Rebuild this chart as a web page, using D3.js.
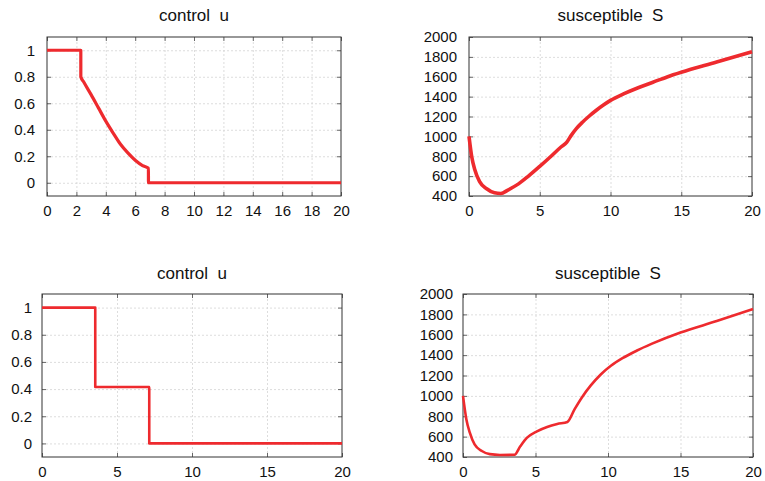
<!DOCTYPE html>
<html>
<head>
<meta charset="utf-8">
<script src="https://cdn.jsdelivr.net/npm/d3@7"></script>
<style>
  body { margin: 0; background: #fff; }
  svg { display: block; }
  .tick text { font-family: 'Liberation Sans', Arial, sans-serif; font-size: 15px; fill: #111; }
  .title { font-family: 'Liberation Sans', Arial, sans-serif; font-size: 17px; fill: #111; white-space: pre; }
  .grid line { stroke: #d4d4d4; stroke-dasharray: 2,2; stroke-width: 0.8; }
  .grid path { display: none; }
</style>
</head>
<body>
<svg id="chart" width="765" height="481"></svg>
<script>

// top row: control with a smooth decreasing part (jumps use a tiny step in t)
var uTopT = [0, 2.3, 2.301, 2.5, 3, 3.5, 4, 4.5, 5, 5.5, 6, 6.5, 6.9, 6.901, 20];
var uTopV = [1, 1, 0.8, 0.76, 0.665, 0.565, 0.465, 0.375, 0.29, 0.225, 0.17, 0.13, 0.11, 0, 0];

var sTopT = [0, 0.2, 0.4, 0.75, 1.25, 1.8, 2.25, 2.75, 3.5, 4.2, 5, 5.8, 6.5, 6.9, 7.2, 7.6, 8, 8.5, 9, 9.5, 10, 11, 12, 13, 14, 15, 17.5, 20];
var sTopV = [1000, 790, 670, 545, 473, 432, 425, 460, 522, 600, 698, 800, 893, 940, 1005, 1080, 1140, 1205, 1263, 1315, 1362, 1432, 1492, 1545, 1598, 1645, 1748, 1852];

// bottom row: piecewise constant control
var uBotT = [0, 3.55, 3.551, 7.15, 7.151, 20];
var uBotV = [1, 1, 0.415, 0.415, 0, 0];

var sBotT = [0, 0.23, 0.47, 0.8, 1.3, 1.85, 2.55, 3.55, 3.95, 4.4, 5.1, 5.8, 6.5, 7.2, 7.7, 8.2, 8.8, 9.5, 10.2, 11, 12, 13, 15, 17.5, 20];
var sBotV = [1000, 771, 639, 523, 459, 428, 420, 422, 505, 587, 652, 695, 724, 744, 870, 985, 1100, 1210, 1295, 1370, 1445, 1510, 1622, 1734, 1852];

var uTicks = [0, 0.2, 0.4, 0.6, 0.8, 1];
var sTicks = [400, 600, 800, 1000, 1200, 1400, 1600, 1800, 2000];
var xTicksFine = [0, 2, 4, 6, 8, 10, 12, 14, 16, 18, 20];
var xTicksCoarse = [0, 5, 10, 15, 20];

var svg = d3.select('#chart');

class Panel
{
  constructor(box, title, xTicks, yDomain, yTicks, yFormat, lineWidth)
  {
    this.box = box;
    this.width = box.right - box.left;
    this.height = box.bottom - box.top;

    this.x = d3.scaleLinear().domain([0, 20]).range([0, this.width]);
    this.y = d3.scaleLinear().domain(yDomain).range([this.height, 0]);

    this.g = svg.append('g')
      .attr('transform', 'translate(' + box.left + ',' + box.top + ')');

    // dashed grid
    this.g.append('g')
      .attr('class', 'grid')
      .attr('transform', 'translate(0,' + this.height + ')')
      .call(d3.axisBottom(this.x).tickValues(xTicks.slice(1, -1)).tickSize(-this.height).tickFormat(''));

    this.g.append('g')
      .attr('class', 'grid')
      .call(d3.axisLeft(this.y).tickValues(yTicks.filter(v => v > yDomain[0] && v < yDomain[1])).tickSize(-this.width).tickFormat(''));

    // inward ticks on all four sides
    var xb = this.g.append('g')
      .attr('transform', 'translate(0,' + this.height + ')')
      .call(d3.axisBottom(this.x).tickValues(xTicks).tickSizeInner(-4).tickSizeOuter(0).tickPadding(box.xpad));
    var xt = this.g.append('g')
      .call(d3.axisTop(this.x).tickValues(xTicks).tickSizeInner(-4).tickSizeOuter(0).tickFormat(''));
    var yl = this.g.append('g')
      .call(d3.axisLeft(this.y).tickValues(yTicks).tickFormat(yFormat).tickSizeInner(-4).tickSizeOuter(0).tickPadding(box.ypad));
    var yr = this.g.append('g')
      .attr('transform', 'translate(' + this.width + ',0)')
      .call(d3.axisRight(this.y).tickValues(yTicks).tickSizeInner(-4).tickSizeOuter(0).tickFormat(''));

    [xb, xt, yl, yr].forEach(a => {
      a.select('.domain').remove();
      a.selectAll('.tick line').attr('stroke', '#666');
    });

    this.g.append('rect')
      .attr('x', 0)
      .attr('y', 0)
      .attr('width', this.width)
      .attr('height', this.height)
      .attr('fill', 'none')
      .attr('stroke', '#333')
      .attr('stroke-width', 1);

    svg.append('text')
      .attr('class', 'title')
      .attr('x', box.left + this.width / 2)
      .attr('y', box.titleY)
      .attr('text-anchor', 'middle')
      .text(title);

    this.lineWidth = lineWidth;
  }

  draw(ts, vs)
  {
    var pts = ts.map((t, i) => ({t: t, v: vs[i]}));
    var line = d3.line().x(d => this.x(d.t)).y(d => this.y(d.v)).curve(d3.curveMonotoneX);

    this.g.append('path')
      .datum(pts)
      .attr('fill', 'none')
      .attr('stroke', '#ee2a2e')
      .attr('stroke-width', this.lineWidth)
      .attr('stroke-linejoin', 'round')
      .attr('d', line);
  }
}

var uFmt = d => d3.format('~g')(d);
var sFmt = d => String(d);

var p1 = new Panel({left: 47, right: 341, top: 37, bottom: 196, xpad: 9, ypad: 12, titleY: 21}, 'control  u',
  xTicksFine, [-0.1, 1.1], uTicks, uFmt, 3.2);
p1.draw(uTopT, uTopV);

var p2 = new Panel({left: 469, right: 752, top: 37, bottom: 196, xpad: 9, ypad: 12, titleY: 21}, 'susceptible  S',
  xTicksCoarse, [400, 2000], sTicks, sFmt, 3.6);
p2.draw(sTopT, sTopV);

var p3 = new Panel({left: 42, right: 342, top: 294, bottom: 457, xpad: 9, ypad: 10, titleY: 279}, 'control  u',
  xTicksCoarse, [-0.1, 1.1], uTicks, uFmt, 2.6);
p3.draw(uBotT, uBotV);

var p4 = new Panel({left: 463, right: 753, top: 294, bottom: 457, xpad: 9, ypad: 10, titleY: 279}, 'susceptible  S',
  xTicksCoarse, [400, 2000], sTicks, sFmt, 2.6);
p4.draw(sBotT, sBotV);

</script>
</body>
</html>
